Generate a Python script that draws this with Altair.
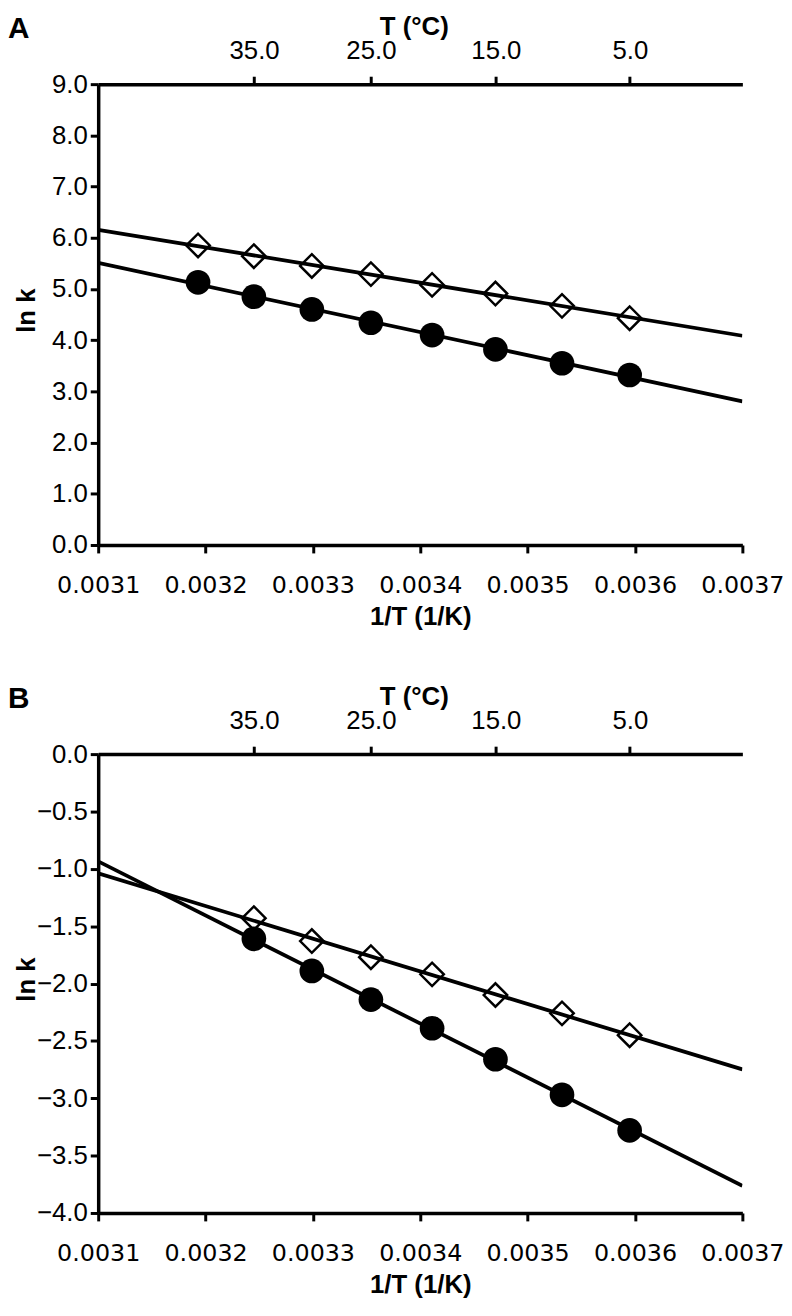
import altair as alt
import pandas as pd

# ---- data ----
inv_T_A = [0.003193, 0.003245, 0.003299, 0.003354, 0.003411, 0.003470, 0.003532, 0.003595]
lnk_A_diamond = [5.85, 5.64, 5.45, 5.29, 5.08, 4.91, 4.67, 4.43]
lnk_A_circle = [5.13, 4.85, 4.60, 4.34, 4.10, 3.82, 3.55, 3.32]

inv_T_B = [0.003245, 0.003299, 0.003354, 0.003411, 0.003470, 0.003532, 0.003595]
lnk_B_diamond = [-1.43, -1.63, -1.77, -1.92, -2.10, -2.26, -2.45]
lnk_B_circle = [-1.61, -1.89, -2.14, -2.39, -2.66, -2.97, -3.28]

x_domain = [0.0031, 0.0037]
x_ticks = [0.0031, 0.0032, 0.0033, 0.0034, 0.0035, 0.0036, 0.0037]
top_tick_celsius = [35.0, 25.0, 15.0, 5.0]
top_tick_values = [1.0 / (c + 273.15) for c in top_tick_celsius]

y_ticks_A = [0.0, 1.0, 2.0, 3.0, 4.0, 5.0, 6.0, 7.0, 8.0, 9.0]
y_ticks_B = [0.0, -0.5, -1.0, -1.5, -2.0, -2.5, -3.0, -3.5, -4.0]

ARIAL = "Liberation Sans"
VERDANA = "DejaVu Sans"


def text_layer(txt, size, x, y, align="center", angle=0):
    return (
        alt.Chart(pd.DataFrame({"t": [txt]}))
        .mark_text(font=ARIAL, fontSize=size, fontWeight="bold", align=align,
                   baseline="middle", color="black", angle=angle)
        .encode(text="t:N", x=alt.value(x), y=alt.value(y))
    )


def panel(letter, xs, yd, yc, ydom, yticks, w, h):
    df = pd.DataFrame(
        {
            "x": xs + xs,
            "y": yd + yc,
            "series": ["diamond"] * len(xs) + ["circle"] * len(xs),
        }
    )
    base = alt.Chart(df)
    xscale = alt.Scale(domain=x_domain, nice=False, zero=False)
    yenc = alt.Y(
        "y:Q",
        scale=alt.Scale(domain=ydom, nice=False, zero=False),
        axis=alt.Axis(
            values=yticks,
            format=".1f",
            title=None,
            labelFont=ARIAL,
            labelFontSize=26,
            labelPadding=3,
        ),
    )
    x_bottom = alt.X(
        "x:Q",
        scale=xscale,
        axis=alt.Axis(
            orient="bottom",
            values=x_ticks,
            format=".4f",
            title="1/T (1/K)",
            labelFont=VERDANA,
            labelFontSize=24,
            labelPadding=21,
            labelFlush=False,
            labelOverlap=False,
            titleFont=ARIAL,
            titleFontSize=26,
            titleFontWeight="bold",
            titlePadding=6,
        ),
    )
    x_top = alt.X(
        "x:Q",
        scale=xscale,
        axis=alt.Axis(
            orient="top",
            values=top_tick_values,
            labelExpr="format(1/datum.value - 273.15, '.1f')",
            title=None,
            labelFont=ARIAL,
            labelFontSize=26,
            labelPadding=13,
            labelFlush=False,
            labelOverlap=False,
        ),
    )
    x_none = alt.X("x:Q", scale=xscale, axis=None)

    lines = (
        base.transform_regression("x", "y", groupby=["series"], extent=x_domain)
        .mark_line(color="black", strokeWidth=3.8, clip=True)
        .encode(x=x_bottom, y=yenc, detail="series:N")
    )
    circles = (
        base.transform_filter(alt.datum.series == "circle")
        .mark_point(shape="circle", filled=True, color="black", size=620, opacity=1)
        .encode(x=x_top, y=yenc)
    )
    diamonds = (
        base.transform_filter(alt.datum.series == "diamond")
        .mark_point(shape="diamond", filled=False, color="black", size=560,
                    strokeWidth=2.5, opacity=1)
        .encode(x=x_none, y=yenc)
    )
    panel_label = text_layer(letter, 30, -91, -56, align="left")
    top_title = text_layer("T (°C)", 26, w / 2 - 6, -58)
    y_title = text_layer("ln k", 26, -72, h / 2 - 4, angle=270)
    return (
        alt.layer(lines, circles, diamonds, panel_label, top_title, y_title)
        .resolve_scale(x="independent")
        .properties(width=w, height=h)
    )


chart_A = panel("A", inv_T_A, lnk_A_diamond, lnk_A_circle, [0, 9], y_ticks_A, 650, 465)
chart_B = panel("B", inv_T_B, lnk_B_diamond, lnk_B_circle, [-4, 0], y_ticks_B, 650, 463)

chart = (
    alt.vconcat(chart_A, chart_B, spacing=55)
    .properties(padding=0)
    .configure_view(stroke=None)
    .configure_axis(
        grid=False,
        domainColor="black",
        domainWidth=3.5,
        tickColor="black",
        tickWidth=3,
        tickSize=8,
        labelColor="black",
        titleColor="black",
    )
)

chart.save("out.html", embed_options={"renderer": "svg", "actions": False})
